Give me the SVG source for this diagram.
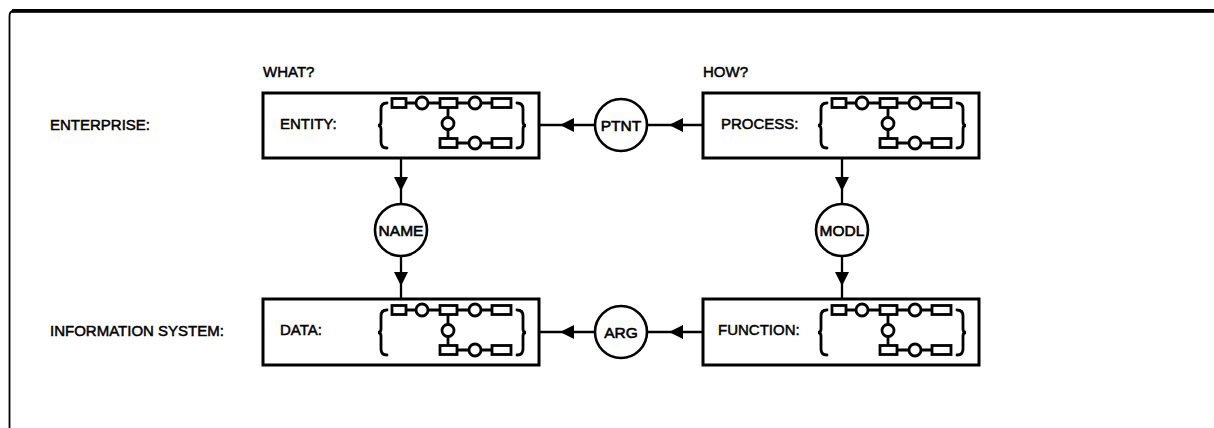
<svg xmlns="http://www.w3.org/2000/svg" xmlns:xlink="http://www.w3.org/1999/xlink" width="1214" height="428" viewBox="0 0 1214 428">
<style>
text{font-family:"Liberation Sans",Arial,sans-serif;font-size:15px;fill:#000;stroke:#000;stroke-width:0.5}
.ctext{font-size:15.5px;stroke-width:0.6;text-anchor:middle}
.box{fill:#fff;stroke:#000;stroke-width:3}
.circ{fill:#fff;stroke:#000;stroke-width:2.6}
.conn{fill:none;stroke:#000;stroke-width:2.3}
.mini{fill:#fff;stroke:#000;stroke-width:2.8}
.brace{fill:none;stroke:#000;stroke-width:2.8;stroke-linecap:round}
</style>
<defs>
<marker id="arr" viewBox="0 0 14 14" refX="7" refY="7" markerWidth="14" markerHeight="14" markerUnits="userSpaceOnUse" orient="auto">
<path d="M0,0 L14,7 L0,14 z" fill="#000"/>
</marker>
<g id="minidiag">
<path class="brace" d="M124 10 Q118 10 118 16 L118 29 Q118 32.5 115 32.5 Q118 32.5 118 36 L118 49 Q118 55 124 55"/>
<path class="brace" d="M254 10 Q260 10 260 16 L260 29 Q260 32.5 263 32.5 Q260 32.5 260 36 L260 49 Q260 55 254 55"/>
<path class="mini" d="M129 10 H248 M185 10 V50 M177 50 H248"/>
<rect class="mini" x="129" y="5.5" width="14" height="9"/>
<circle class="mini" cx="159" cy="10" r="6"/>
<rect class="mini" x="177" y="5.5" width="17" height="9"/>
<circle class="mini" cx="212" cy="10" r="6"/>
<rect class="mini" x="229" y="5.5" width="19" height="9"/>
<circle class="mini" cx="185" cy="30.5" r="6"/>
<rect class="mini" x="177" y="45.5" width="17" height="9"/>
<circle class="mini" cx="212" cy="50" r="6"/>
<rect class="mini" x="229" y="45.5" width="19" height="9"/>
</g>
</defs>
<rect x="0" y="0" width="1214" height="428" fill="#fff"/>
<g id="frame">
<path d="M9.5 428 V16 Q9.5 11 14 11" fill="none" stroke="#000" stroke-width="1.8"/>
<rect x="12" y="9" width="1202" height="3.8" fill="#000"/>
</g>
<g id="labels">
<text x="263" y="77">WHAT?</text>
<text x="703" y="77">HOW?</text>
<text x="50" y="130">ENTERPRISE:</text>
<text x="50" y="336">INFORMATION SYSTEM:</text>
</g>
<g id="connectors">
<path class="conn" d="M595 125 L567 125 L540 125" marker-mid="url(#arr)"/>
<path class="conn" d="M703 125 L676 125 L647 125" marker-mid="url(#arr)"/>
<path class="conn" d="M595 332 L567 332 L540 332" marker-mid="url(#arr)"/>
<path class="conn" d="M703 332 L676 332 L647 332" marker-mid="url(#arr)"/>
<path class="conn" d="M401 158 L401 184 L401 204" marker-mid="url(#arr)"/>
<path class="conn" d="M401 256 L401 279 L401 299" marker-mid="url(#arr)"/>
<path class="conn" d="M842 158 L842 184 L842 204" marker-mid="url(#arr)"/>
<path class="conn" d="M842 256 L842 279 L842 299" marker-mid="url(#arr)"/>
</g>
<g id="entity">
<rect class="box" x="263" y="93" width="276" height="65"/>
<text x="280" y="129">ENTITY:</text>
<use xlink:href="#minidiag" href="#minidiag" x="263" y="93"/>
</g>
<g id="process">
<rect class="box" x="703" y="93" width="276" height="65"/>
<text x="721" y="129">PROCESS:</text>
<use xlink:href="#minidiag" href="#minidiag" x="703" y="93"/>
</g>
<g id="data">
<rect class="box" x="263" y="299" width="276" height="66"/>
<text x="280" y="335">DATA:</text>
<use xlink:href="#minidiag" href="#minidiag" x="263" y="300"/>
</g>
<g id="function">
<rect class="box" x="703" y="299" width="276" height="66"/>
<text x="718" y="335">FUNCTION:</text>
<use xlink:href="#minidiag" href="#minidiag" x="703" y="300"/>
</g>
<g id="ptnt">
<circle class="circ" cx="621" cy="125" r="26"/>
<text class="ctext" x="621" y="130.5">PTNT</text>
</g>
<g id="arg">
<circle class="circ" cx="621" cy="332" r="26"/>
<text class="ctext" x="621" y="337.5">ARG</text>
</g>
<g id="name">
<circle class="circ" cx="401" cy="230" r="26"/>
<text class="ctext" x="401" y="235.5">NAME</text>
</g>
<g id="modl">
<circle class="circ" cx="842" cy="230" r="26"/>
<text class="ctext" x="842" y="235.5">MODL</text>
</g>
</svg>
